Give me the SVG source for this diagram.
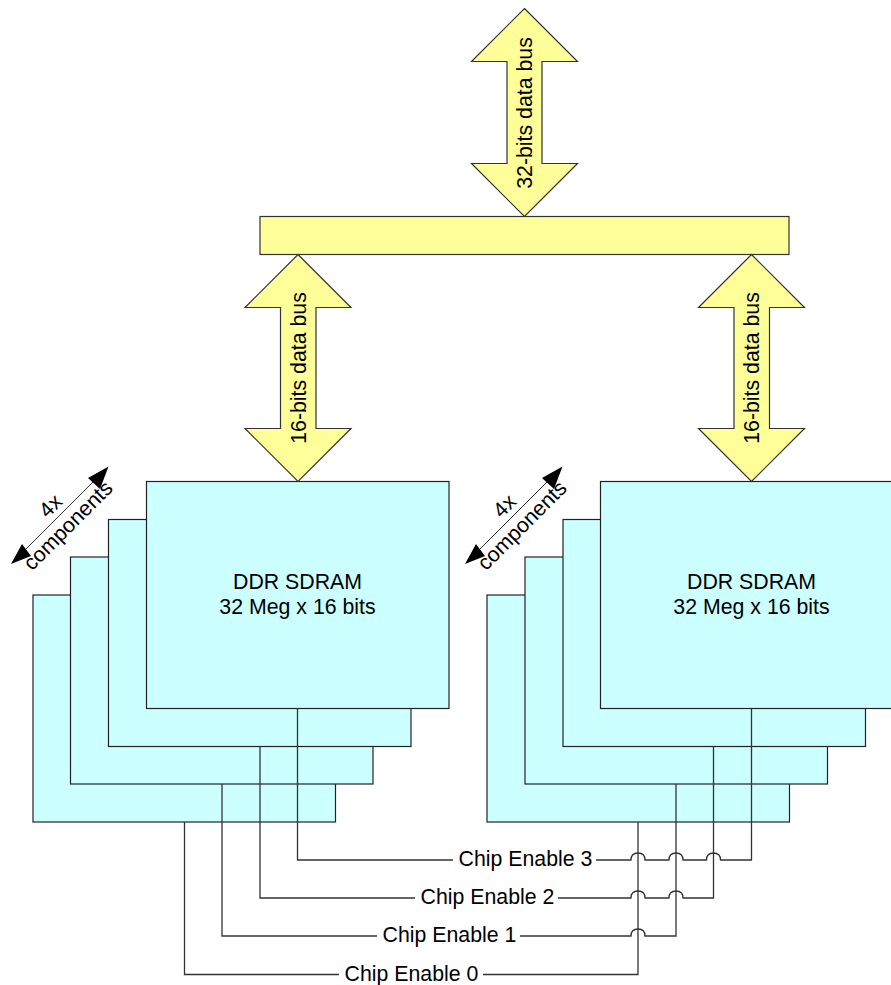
<svg xmlns="http://www.w3.org/2000/svg" width="891" height="985" viewBox="0 0 891 985">
<style>
text{font-family:"Liberation Sans",Arial,sans-serif;font-size:21.300px;fill:#000;text-anchor:middle}
.bus{fill:#ffff99;stroke:#333;stroke-width:1.200;stroke-linejoin:miter}
.chip{fill:#ccffff;stroke:#222;stroke-width:1.200}
.wire{fill:none;stroke:#333;stroke-width:1.300}
.dim{fill:none;stroke:#333;stroke-width:1}
.head{fill:#000;stroke:none}
</style>
<g id="chips-left">
<rect class="chip" x="33" y="595" width="302.500" height="227"/>
<rect class="chip" x="70.500" y="557" width="302.500" height="227"/>
<rect class="chip" x="108.500" y="519.500" width="302.500" height="227"/>
</g>
<g id="chips-right">
<rect class="chip" x="487" y="595" width="302.500" height="227"/>
<rect class="chip" x="525" y="557" width="302.500" height="227"/>
<rect class="chip" x="563" y="519.500" width="302.500" height="227"/>
</g>
<g id="connectors">
<path class="wire" d="M297.500 708.500V860H453M596 860H631Q631 853 638 853Q645 853 645 860H669Q669 853 676 853Q683 853 683 860H706.500Q706.500 853 713.500 853Q720.500 853 720.500 860H751.500V708.500"/>
<path class="wire" d="M260 746.500V898H415M558 898H631Q631 891 638 891Q645 891 645 898H669Q669 891 676 891Q683 891 683 898H713.500V746.500"/>
<path class="wire" d="M222 784V936H377M520 936H631Q631 929 638 929Q645 929 645 936H676V784"/>
<path class="wire" d="M184.500 822V974.500H339M483 974.500H638V822"/>
</g>
<g id="ddr-left">
<rect class="chip" x="146.500" y="481.500" width="302.500" height="227"/>
<text x="297.500" y="589">DDR SDRAM</text>
<text x="297.500" y="613.500">32 Meg x 16 bits</text>
</g>
<g id="ddr-right">
<rect class="chip" x="600.500" y="481.500" width="302.500" height="227"/>
<text x="751.500" y="589">DDR SDRAM</text>
<text x="751.500" y="613.500">32 Meg x 16 bits</text>
</g>
<g id="bus-bar"><rect class="bus" x="260" y="216.500" width="529" height="38"/></g>
<g id="bus-32">
<path class="bus" d="M524.500 8.500L577.500 61.500H542V163.500H577.500L524.500 216.500L471.500 163.500H507V61.500H471.500Z"/>
<text transform="translate(532 113) rotate(-90)">32-bits data bus</text>
</g>
<g id="bus-16-left">
<path class="bus" d="M298 254.500L351 307.500H316V428.500H351L298 481.500L245 428.500H280.500V307.500H245Z"/>
<text transform="translate(305.500 368) rotate(-90)">16-bits data bus</text>
</g>
<g id="bus-16-right">
<path class="bus" d="M751.500 254.500L804.500 307.500H769.500V428.500H804.500L751.500 481.500L698.500 428.500H734V307.500H698.500Z"/>
<text transform="translate(759 368) rotate(-90)">16-bits data bus</text>
</g>
<g id="dim-left">
<path class="dim" d="M25 550L95 480"/>
<path class="head" d="M108.500 466.500L88 478L100 489ZM11 564L22 544L31 556Z"/>
<text transform="translate(55.500 511) rotate(-45)">4x</text>
<text transform="translate(73 530.500) rotate(-45)">components</text>
</g>
<g id="dim-right">
<path class="dim" d="M479 550L549 480"/>
<path class="head" d="M562.500 466.500L542 478L554 489ZM465 564L476 544L485 556Z"/>
<text transform="translate(509.500 511) rotate(-45)">4x</text>
<text transform="translate(527 530.500) rotate(-45)">components</text>
</g>
<g id="labels">
<text x="525.500" y="866">Chip Enable 3</text>
<text x="487.500" y="904">Chip Enable 2</text>
<text x="449.500" y="942">Chip Enable 1</text>
<text x="411.500" y="980.500">Chip Enable 0</text>
</g>
</svg>
